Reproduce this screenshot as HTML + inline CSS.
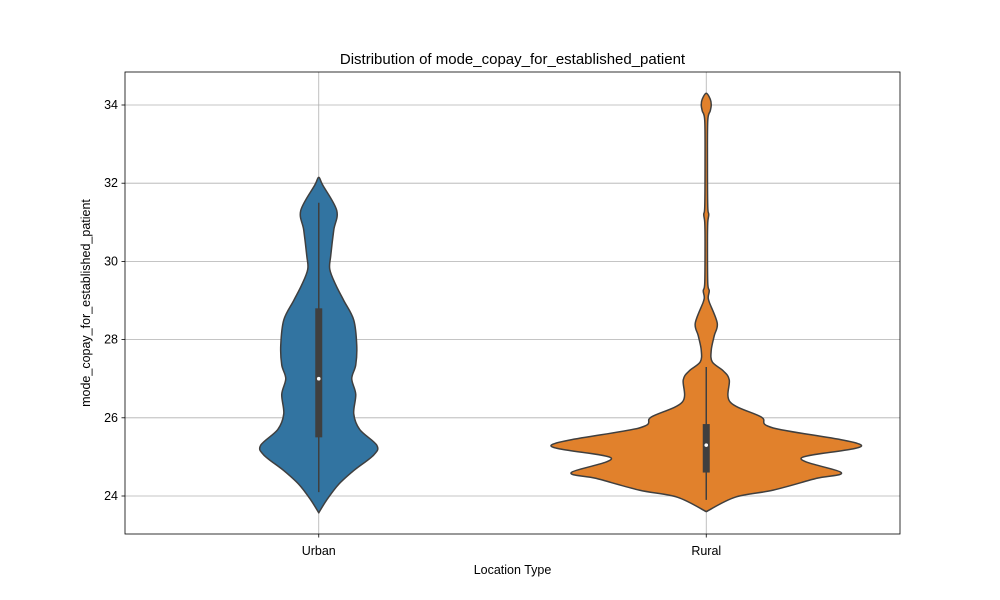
<!DOCTYPE html>
<html><head><meta charset="utf-8"><style>body{margin:0;background:#fff}svg{display:block;font-family:"Liberation Sans","DejaVu Sans",sans-serif}</style></head>
<body>
<svg id="chart" width="1000" height="600" viewBox="0 0 1000 600"></svg>
<script>
const categories = ["Urban","Rural"];
const colors = ["#3274a1","#e1812c"];
const yTicks = [24,26,28,30,32,34];
// density profiles: values and half-widths (px)
const urbanVals = [23.57,23.9,24.3,24.65,25.05,25.3,25.7,26.1,26.6,27.0,27.35,27.85,28.5,29.0,29.4,29.8,30.15,30.8,31.3,31.95,32.15];
const urbanDens = [0,8,20,35,55,58,41,35,37,33,37,38,35,25,17,11,12,15,18,4,0];
const ruralVals = [23.6,23.97,24.15,24.45,24.6,24.97,25.3,25.74,26.02,26.4,26.97,27.2,27.43,27.73,28.1,28.42,28.96,29.1,29.25,29.45,30.5,31.0,31.2,31.4,32.5,33.6,33.85,34.0,34.15,34.3];
const ruralDens = [0,29,67,110,135,95,155,67,55,24,23,17,6,5,8,11,3,2,3,1.5,1.2,1.5,2.5,1.5,1.2,1.5,4,5,4,0];
const q1 = [25.5,24.6], q3 = [28.8,25.84], med = [27.0,25.3], wlo = [24.1,23.9], whi = [31.5,27.3];

const L=125,R=900,T=72,B=534;
const yS = v => 496 - (v-24)*39.1;
const xS = i => L + (R-L)*(i+0.5)/categories.length;
const svg = document.getElementById('chart');
const NS="http://www.w3.org/2000/svg";
function mk(t,a,p){const e=document.createElementNS(NS,t);for(const k in a)e.setAttribute(k,a[k]);(p||svg).appendChild(e);return e;}

let e=mk('rect',{x:0,y:0,width:1000,height:600,fill:'#fff'});



// grid
yTicks.forEach(t=>{
  let g=mk('line',{x1:L,x2:R,y1:yS(t),y2:yS(t),stroke:'#b0b0b0','stroke-width':0.8});
  
  
  let tk=mk('line',{x1:L-3.5,x2:L,y1:yS(t),y2:yS(t),stroke:'#000','stroke-width':0.8});
  
  
  let tx=mk('text',{x:L-7,y:yS(t)+4,'text-anchor':'end','font-size':12.5,fill:'#000'});
  tx.textContent=t;
  
  
});
categories.forEach((c,i)=>{
  let g=mk('line',{x1:xS(i),x2:xS(i),y1:T,y2:B,stroke:'#b0b0b0','stroke-width':0.8});
  
  
});

function smoothPath(pts){
  let d=`M${pts[0][0]},${pts[0][1]}`;
  for(let i=0;i<pts.length-1;i++){
    const p0=pts[Math.max(i-1,0)],p1=pts[i],p2=pts[i+1],p3=pts[Math.min(i+2,pts.length-1)];
    const k=6;
    d+=` C${p1[0]+(p2[0]-p0[0])/k},${p1[1]+(p2[1]-p0[1])/k} ${p2[0]-(p3[0]-p1[0])/k},${p2[1]-(p3[1]-p1[1])/k} ${p2[0]},${p2[1]}`;
  }
  return d;
}
const profiles=[[urbanVals,urbanDens],[ruralVals,ruralDens]];
profiles.forEach(([vals,dens],i)=>{
  const cx=xS(i);
  const right=vals.map((v,j)=>[cx+dens[j],yS(v)]);
  const left=vals.map((v,j)=>[cx-dens[j],yS(v)]).reverse();
  const pts=right.concat(left.slice(1));
  let p=mk('path',{d:smoothPath(pts)+'Z',fill:colors[i],stroke:'#3f3f3f','stroke-width':1.5,'stroke-linejoin':'round'});
  
  
  let w=mk('line',{x1:cx,x2:cx,y1:yS(wlo[i]),y2:yS(whi[i]),stroke:'#3f3f3f','stroke-width':1.5});
  
  
  let b=mk('rect',{x:cx-3.5,y:yS(q3[i]),width:7,height:yS(q1[i])-yS(q3[i]),fill:'#3f3f3f'});
  
  
  let m=mk('circle',{cx:cx,cy:yS(med[i]),r:1.8,fill:'#fff'});
  
  
  let tk=mk('line',{x1:cx,x2:cx,y1:B,y2:B+3.5,stroke:'#000','stroke-width':0.8});
  
  
  let tx=mk('text',{x:cx,y:B+21,'text-anchor':'middle','font-size':12.5});
  tx.textContent=categories[i];
  
  
});

let fr=mk('rect',{x:L,y:T,width:R-L,height:B-T,fill:'none',stroke:'#000','stroke-width':0.8});


let ti=mk('text',{x:(L+R)/2,y:64,'text-anchor':'middle','font-size':15});
ti.textContent='Distribution of mode_copay_for_established_patient';


let xl=mk('text',{x:(L+R)/2,y:574,'text-anchor':'middle','font-size':12.5});
xl.textContent='Location Type';


let yl=mk('text',{x:0,y:0,'text-anchor':'middle','font-size':12.5,transform:`translate(90,${(T+B)/2}) rotate(-90)`});
yl.textContent='mode_copay_for_established_patient';


</script>
</body></html>
